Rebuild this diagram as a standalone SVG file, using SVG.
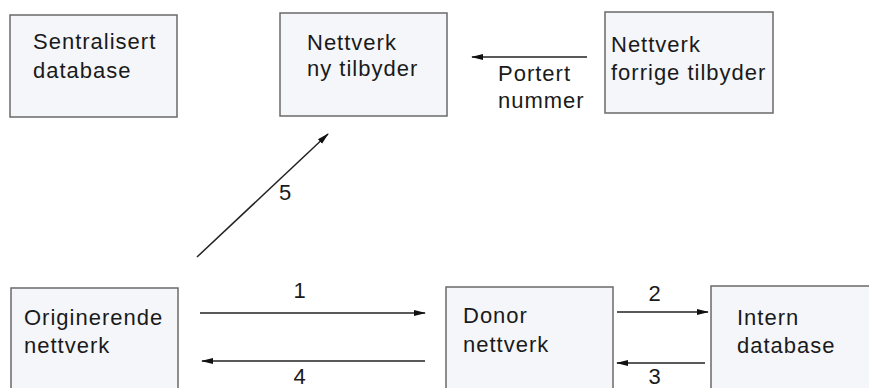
<svg xmlns="http://www.w3.org/2000/svg" width="869" height="388" viewBox="0 0 869 388">
<defs>
<marker id="ah" markerWidth="12" markerHeight="8" refX="11" refY="4" orient="auto" markerUnits="userSpaceOnUse">
<path d="M0,1 L12,4 L0,7 Z" fill="#111"/>
</marker>
<style>
.box{fill:#f5f6f9;stroke:#6a6a6a;stroke-width:1.5}
.t{font-family:"Liberation Sans",Arial,sans-serif;font-size:22px;fill:#1a1a1a;letter-spacing:1px}
.c{stroke:#222;stroke-width:1.5;fill:none;marker-end:url(#ah)}
</style>
</defs>
<rect width="869" height="388" fill="#fff"/>
<g id="sentralisert">
<rect class="box" x="10" y="15" width="167" height="102"/>
<text class="t" x="33" y="49">Sentralisert</text>
<text class="t" x="33" y="78">database</text>
</g>
<g id="nyTilbyder">
<rect class="box" x="280" y="13" width="167" height="103"/>
<text class="t" x="307" y="50">Nettverk</text>
<text class="t" x="307" y="76">ny tilbyder</text>
</g>
<g id="forrigeTilbyder">
<rect class="box" x="605" y="12" width="168" height="101"/>
<text class="t" x="611" y="52">Nettverk</text>
<text class="t" x="611" y="80">forrige tilbyder</text>
</g>
<g id="originerende">
<rect class="box" x="11" y="288" width="167" height="110"/>
<text class="t" x="24" y="325">Originerende</text>
<text class="t" x="24" y="353">nettverk</text>
</g>
<g id="donor">
<rect class="box" x="446" y="287" width="167" height="110"/>
<text class="t" x="463" y="323">Donor</text>
<text class="t" x="463" y="352">nettverk</text>
</g>
<g id="intern">
<rect class="box" x="711" y="286" width="170" height="110"/>
<text class="t" x="737" y="325">Intern</text>
<text class="t" x="737" y="353">database</text>
</g>
<g id="connectors">
<line class="c" x1="587" y1="57" x2="472" y2="57"/>
<text class="t" x="498" y="81">Portert</text>
<text class="t" x="498" y="108">nummer</text>
<line class="c" x1="197" y1="257" x2="328" y2="134"/>
<text class="t" x="279" y="200">5</text>
<line class="c" x1="200" y1="313" x2="425" y2="313"/>
<text class="t" x="300" y="298" text-anchor="middle">1</text>
<line class="c" x1="425" y1="361" x2="202" y2="361"/>
<text class="t" x="300" y="384" text-anchor="middle">4</text>
<line class="c" x1="617" y1="312" x2="708" y2="312"/>
<text class="t" x="655" y="301" text-anchor="middle">2</text>
<line class="c" x1="705" y1="363" x2="617" y2="363"/>
<text class="t" x="655" y="384" text-anchor="middle">3</text>
</g>
</svg>
